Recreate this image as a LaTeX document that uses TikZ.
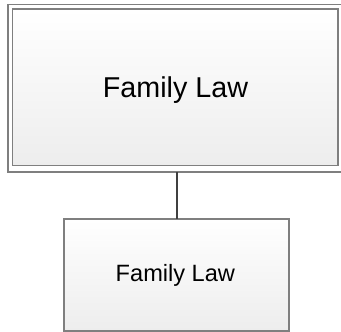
\documentclass[tikz,border=0pt]{standalone}
\usepackage{fontspec}
\setmainfont{Liberation Sans}
\definecolor{boxline}{HTML}{7F7F7F}
\definecolor{connline}{HTML}{404040}
\definecolor{boxbottom}{HTML}{EDEDED}
\begin{document}
\begin{tikzpicture}[x=1pt,y=-1pt,
  frame/.style={draw=boxline, line width=1.5pt, rectangle, inner sep=0pt, outer sep=0pt},
  shadedbox/.style={frame, top color=white, bottom color=boxbottom},
  label/.style={anchor=base, inner sep=0pt, text=black}]
\useasboundingbox (0,0) rectangle (341,332);
% top (root) box: outer frame and inner box
\node[frame, fill=white, minimum width=337pt, minimum height=167.5pt] (outer) at (176.5,88.25) {};
\node[shadedbox, minimum width=325.5pt, minimum height=156.5pt] (root) at (175.25,87.25) {};
\node[label, font=\fontsize{28.7}{34}\selectfont] (roottext) at (175.5,97.7) {Family Law};
% child box
\node[shadedbox, minimum width=225pt, minimum height=112pt] (child) at (176.5,275) {};
\node[label, font=\fontsize{23.6}{28}\selectfont] (childtext) at (175.4,281.7) {Family Law};
% connector
\draw[connline, line width=2pt] (outer.south) -- (child.north);
\end{tikzpicture}
\end{document}
